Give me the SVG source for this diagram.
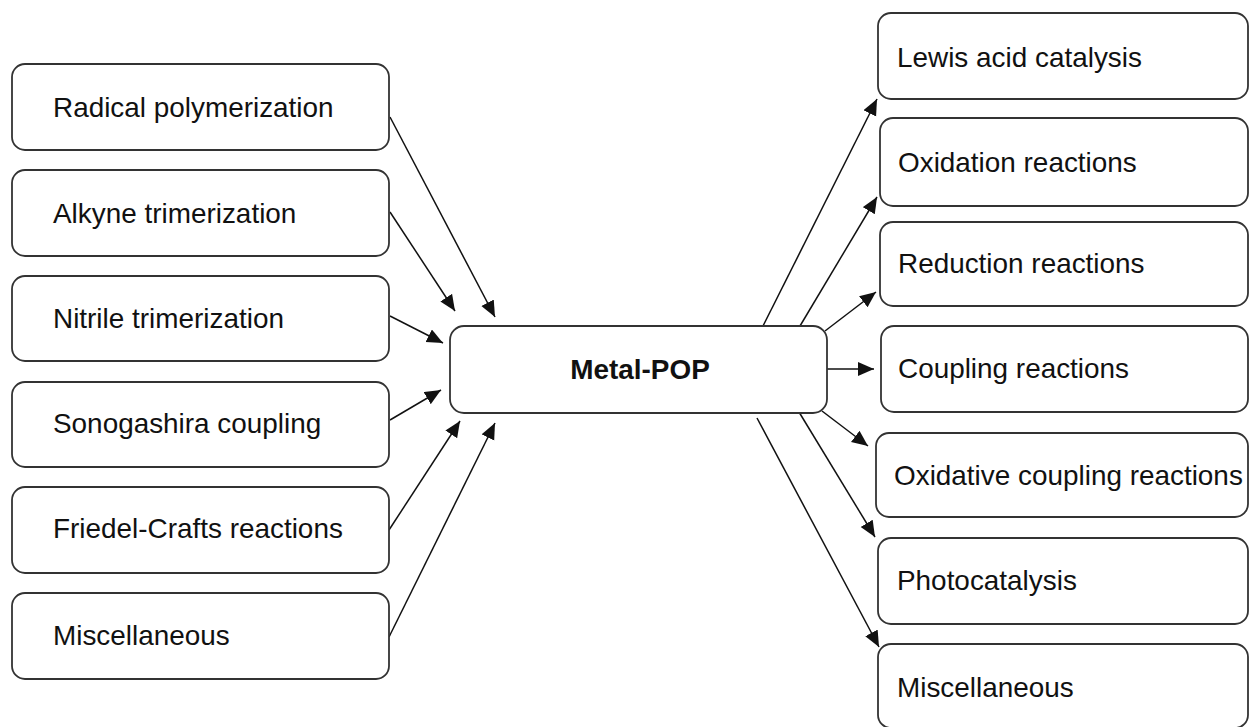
<svg xmlns="http://www.w3.org/2000/svg" width="1249" height="727" viewBox="0 0 1249 727">
<style>
.box{fill:#fff;stroke:#333;stroke-width:1.8}
.t{font-family:"Liberation Sans",Arial,sans-serif;font-size:27.9px;fill:#111}
.b{font-weight:bold;text-anchor:middle}
.c{stroke:#111;stroke-width:1.5;fill:none;marker-end:url(#ah)}
</style>
<defs>
<marker id="ah" markerUnits="userSpaceOnUse" markerWidth="17" markerHeight="15" refX="16" refY="7" orient="auto">
<path d="M0,0 L16,7 L0,14 z" fill="#111"/>
</marker>
</defs>
<rect width="1249" height="727" fill="#fff"/>
<g id="connectors">
<line class="c" x1="390" y1="117" x2="495" y2="317"/>
<line class="c" x1="390" y1="212" x2="455" y2="311"/>
<line class="c" x1="390" y1="316" x2="443" y2="343"/>
<line class="c" x1="390" y1="420" x2="441" y2="390"/>
<line class="c" x1="389" y1="530" x2="460" y2="421"/>
<line class="c" x1="389" y1="637" x2="495" y2="423"/>
<line class="c" x1="763" y1="326" x2="877" y2="99"/>
<line class="c" x1="800" y1="326" x2="877" y2="197"/>
<line class="c" x1="825" y1="331" x2="876" y2="292"/>
<line class="c" x1="827" y1="369" x2="874" y2="369"/>
<line class="c" x1="822" y1="411" x2="868" y2="446"/>
<line class="c" x1="799" y1="412" x2="875" y2="537"/>
<line class="c" x1="757" y1="418" x2="879" y2="647"/>
</g>
<g id="n-radical"><rect class="box" x="12" y="64" width="377" height="86" rx="13"/><text class="t" x="53" y="117">Radical polymerization</text></g>
<g id="n-alkyne"><rect class="box" x="12" y="170" width="377" height="86" rx="13"/><text class="t" x="53" y="223">Alkyne trimerization</text></g>
<g id="n-nitrile"><rect class="box" x="12" y="276" width="377" height="85" rx="13"/><text class="t" x="53" y="328">Nitrile trimerization</text></g>
<g id="n-sonogashira"><rect class="box" x="12" y="382" width="377" height="85" rx="13"/><text class="t" x="53" y="433">Sonogashira coupling</text></g>
<g id="n-friedel"><rect class="box" x="12" y="487" width="377" height="86" rx="13"/><text class="t" x="53" y="538">Friedel-Crafts reactions</text></g>
<g id="n-misc-left"><rect class="box" x="12" y="593" width="377" height="86" rx="13"/><text class="t" x="53" y="645">Miscellaneous</text></g>
<g id="n-metalpop"><rect class="box" x="450" y="326" width="377" height="87" rx="14"/><text class="t b" x="640" y="379">Metal-POP</text></g>
<g id="n-lewis"><rect class="box" x="878" y="13" width="370" height="86" rx="13"/><text class="t" x="897" y="67">Lewis acid catalysis</text></g>
<g id="n-oxidation"><rect class="box" x="880" y="118" width="368" height="88" rx="13"/><text class="t" x="898" y="172">Oxidation reactions</text></g>
<g id="n-reduction"><rect class="box" x="880" y="222" width="368" height="84" rx="13"/><text class="t" x="898" y="273">Reduction reactions</text></g>
<g id="n-coupling"><rect class="box" x="881" y="326" width="367" height="86" rx="13"/><text class="t" x="898" y="378">Coupling reactions</text></g>
<g id="n-oxcoupling"><rect class="box" x="876" y="433" width="372" height="84" rx="13"/><text class="t" x="894" y="485">Oxidative coupling reactions</text></g>
<g id="n-photo"><rect class="box" x="878" y="538" width="370" height="86" rx="13"/><text class="t" x="897" y="590">Photocatalysis</text></g>
<g id="n-misc-right"><rect class="box" x="878" y="644" width="370" height="84" rx="13"/><text class="t" x="897" y="697">Miscellaneous</text></g>
</svg>
